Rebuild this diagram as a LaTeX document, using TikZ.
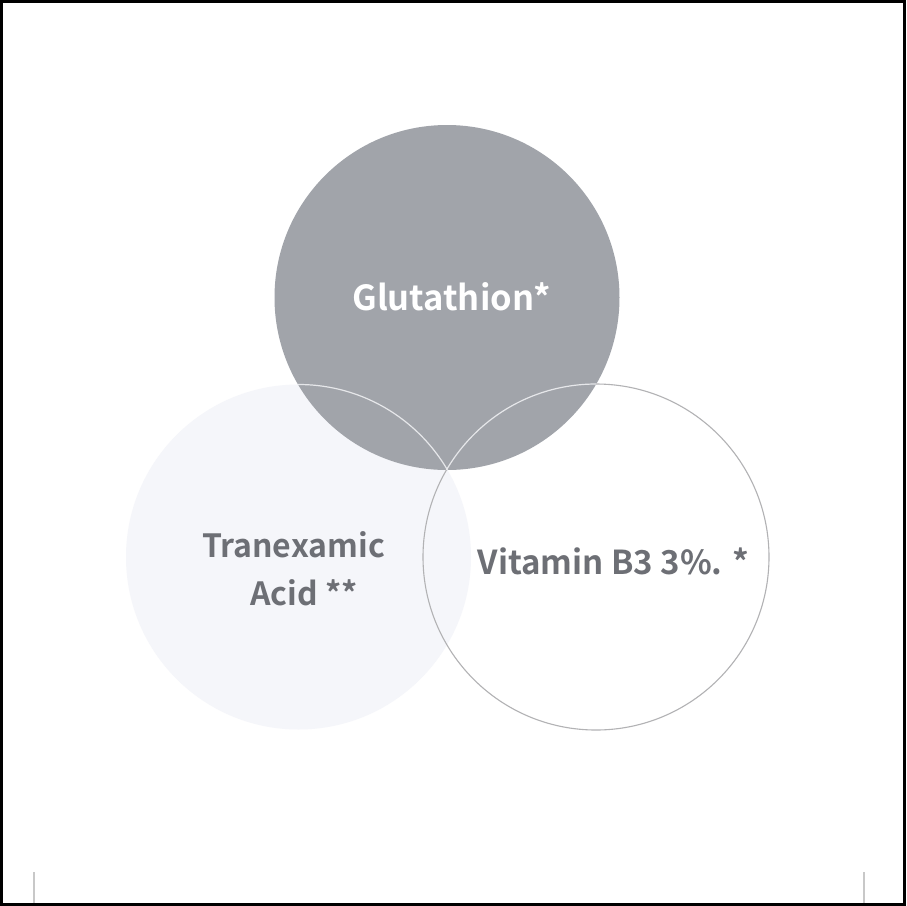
\documentclass[tikz,border=0pt]{standalone}
\usepackage{fontspec}
\setmainfont{Noto Sans CJK SC}[BoldFont={Noto Sans CJK SC Bold}]
\definecolor{topgray}{HTML}{A1A4AA}
\definecolor{leftfill}{HTML}{F5F6FA}
\definecolor{ringgray}{HTML}{B2B2B4}
\definecolor{txtgray}{HTML}{6D6F75}
\definecolor{innerline}{HTML}{E6E7EA}
\definecolor{tickgray}{HTML}{C8C8C8}
\tikzset{
  lbl/.style={anchor=base, inner sep=0pt, font=\bfseries\fontsize{33}{40}\selectfont, text=txtgray},
}
\begin{document}
\begin{tikzpicture}[x=1pt,y=-1pt]
\useasboundingbox (0,0) rectangle (906,906);
\fill[white] (0,0) rectangle (906,906);
\coordinate (T) at (447,297.5);
\coordinate (L) at (298.5,557);
\coordinate (R) at (596,557);
\fill[leftfill] (L) circle (172.5);
\draw[ringgray, line width=1.1pt] (R) circle (173);
\fill[topgray] (T) circle (172.5);
\begin{scope}
  \clip (T) circle (172.5);
  \draw[innerline, line width=1.2pt] (L) circle (172.5);
  \draw[innerline, line width=1.2pt] (R) circle (173);
\end{scope}
\node[lbl, text=white, font=\bfseries\fontsize{34.5}{40}\selectfont] (glu) at (451.5,310) {Glutathion*};
\node[lbl, font=\bfseries\fontsize{32}{40}\selectfont] (tra) at (293.5,557) {Tranexamic};
\node[lbl, font=\bfseries\fontsize{32}{40}\selectfont] (aci) at (304,605) {Acid **};
\node[lbl] (vit) at (613.5,574) {Vitamin B3 3\%. *};
\draw[tickgray, line width=2pt] (34,872) -- (34,906);
\draw[tickgray, line width=2pt] (864,872) -- (864,906);
\draw[black, line width=3pt] (1.5,1.5) rectangle (904.5,904.5);
\end{tikzpicture}
\end{document}
